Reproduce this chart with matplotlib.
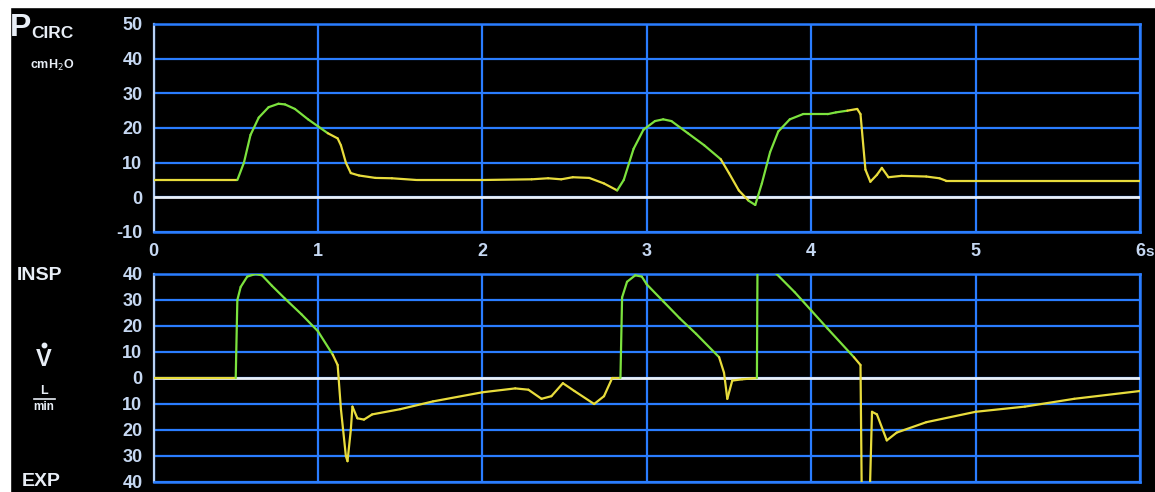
import matplotlib
matplotlib.use("Agg")
import matplotlib.pyplot as plt
import numpy as np
from matplotlib.collections import LineCollection
from matplotlib.lines import Line2D
from matplotlib.patches import Rectangle

# circuit pressure (cmH2O) over time (s)
press_t = [0.0, 0.51, 0.55, 0.59, 0.64, 0.70, 0.76, 0.80, 0.86, 0.94, 1.00, 1.06, 1.12,
           1.14, 1.17, 1.20, 1.25, 1.35, 1.45, 1.60, 2.00, 2.30, 2.40, 2.48, 2.55, 2.65,
           2.74, 2.82, 2.86, 2.92, 2.98, 3.05, 3.10, 3.15, 3.25, 3.35, 3.45, 3.50, 3.56,
           3.62, 3.66, 3.70, 3.75, 3.80, 3.87, 3.95, 4.05, 4.10, 4.15, 4.22, 4.28, 4.30,
           4.33, 4.36, 4.40, 4.43, 4.47, 4.55, 4.70, 4.78, 4.82, 6.00]
press_v = [5, 5, 10, 18, 23, 26, 27, 26.8, 25.5, 22.5, 20.5, 18.5, 17,
           15, 10, 7, 6.3, 5.6, 5.5, 5, 5, 5.2, 5.5, 5.2, 5.8, 5.6,
           4.0, 2.0, 5, 14, 19.5, 22, 22.5, 22, 18.5, 15, 11, 7, 2,
           -1, -2.2, 4, 13, 19, 22.5, 24, 24, 24, 24.5, 25, 25.5, 24,
           8, 4.5, 6.5, 8.5, 5.8, 6.2, 6, 5.5, 4.8, 4.8]
press_insp = [(0.51, 1.05), (2.82, 3.46), (3.62, 4.20)]

# flow (L/min), positive = inspiration
flow_t = [0.0, 0.50, 0.51, 0.53, 0.57, 0.62, 0.66, 0.72, 0.80, 0.90, 1.00, 1.09, 1.12,
          1.14, 1.17, 1.18, 1.20, 1.21, 1.24, 1.28, 1.33, 1.50, 1.70, 2.00, 2.20, 2.28,
          2.36, 2.42, 2.49, 2.56, 2.68, 2.74, 2.79, 2.84, 2.85, 2.88, 2.93, 2.97, 3.00,
          3.10, 3.20, 3.30, 3.44, 3.47, 3.49, 3.52, 3.58, 3.67, 3.675, 3.79, 3.90, 4.00,
          4.10, 4.26, 4.30, 4.31, 4.35, 4.37, 4.40, 4.46, 4.52, 4.70, 5.00, 5.30, 5.60, 6.00]
flow_v = [0, 0, 30, 35, 39, 40, 39.5, 35.5, 30.5, 24.5, 18, 9, 5,
          -12, -30, -32, -20, -11, -15.5, -16, -14, -12, -9, -5.5, -4, -4.5,
          -8, -7, -2, -5, -10, -7, 0, 0, 31, 37, 39.5, 39, 36,
          29.5, 23, 17, 8, 2, -8, -1, -0.5, 0, 60, 40, 33, 26,
          19, 8, 5, -60, -60, -13, -14, -24, -21, -17, -13, -11, -8, -5]
flow_insp = [(0.50, 1.09), (2.84, 3.44), (3.67, 4.26)]

x_ticks = [0, 1, 2, 3, 4, 5, 6]
press_ticks = [50, 40, 30, 20, 10, 0, -10]
flow_ticks = [40, 30, 20, 10, 0, -10, -20, -30, -40]

BG = "#000000"
GRID = "#2a7dff"
LABEL = "#c6d8f2"
WHITE = "#e8eef6"
YELLOW = "#e8dc3c"
GREEN = "#7ce23e"
FONT = ["Liberation Sans", "DejaVu Sans"]

W, H = 1155, 492
fig = plt.figure(figsize=(W / 100, H / 100), dpi=100, facecolor=BG)


def px_box(x0, y0, x1, y1):
    return [x0 / W, 1 - y1 / H, (x1 - x0) / W, (y1 - y0) / H]


def trace(ax, t, v, windows):
    pts = np.column_stack([t, v])
    segs = np.stack([pts[:-1], pts[1:]], axis=1)
    mid = (pts[:-1, 0] + pts[1:, 0]) / 2
    cols = [GREEN if any(a <= m <= b for a, b in windows) else YELLOW for m in mid]
    lc = LineCollection(segs, colors=cols, linewidths=1.6, capstyle="round",
                        joinstyle="round", zorder=4)
    ax.add_collection(lc)


def style_panel(ax, ylim, yticks, ylabels):
    ax.set_facecolor(BG)
    ax.set_xlim(0, 6)
    ax.set_ylim(*ylim)
    ax.set_xticks(range(7))
    ax.set_yticks(yticks)
    ax.set_yticklabels(ylabels, fontfamily=FONT, fontweight="bold", fontsize=13, color=LABEL)
    ax.tick_params(length=0, pad=8)
    ax.grid(True, color=GRID, lw=1.6, zorder=1)
    ax.set_axisbelow(True)
    for side in ("top", "right", "bottom"):
        ax.spines[side].set_color(GRID)
        ax.spines[side].set_linewidth(1.8)
    ax.spines["left"].set_color("#b8d2f6")
    ax.spines["left"].set_linewidth(1.6)
    ax.axhline(0, color=WHITE, lw=2.0, zorder=3)


ax_p = fig.add_axes(px_box(153.5, 24, 1140, 232))
style_panel(ax_p, (-10, 50), press_ticks, [str(v) for v in press_ticks])
ax_p.set_xticklabels([])
trace(ax_p, press_t, press_v, press_insp)

ax_f = fig.add_axes(px_box(153.5, 274, 1140, 482))
style_panel(ax_f, (-40, 40), flow_ticks, [str(abs(v)) for v in flow_ticks])
ax_f.set_xticklabels([])
trace(ax_f, flow_t, flow_v, flow_insp)

# time labels between the two panels
for x in x_ticks:
    ax_p.text(x, -0.095, str(x), transform=ax_p.get_xaxis_transform(), ha="center",
              va="center", fontfamily=FONT, fontweight="bold", fontsize=13, color=LABEL)
fig.text(1145 / W, 1 - 252 / H, "s", ha="left", va="center", fontfamily=FONT,
         fontweight="bold", fontsize=11, color=LABEL)

# channel titles on the left
txt = dict(color=WHITE, fontfamily=FONT, fontweight="bold")
fig.text(10 / W, 1 - 28 / H, "P", fontsize=23, ha="left", va="center", **txt)
fig.text(31 / W, 1 - 33 / H, "CIRC", fontsize=12.5, ha="left", va="center", **txt)
fig.text(52 / W, 1 - 65 / H, r"cmH$_2$O", fontsize=9, ha="center", va="center", **txt)
fig.text(40 / W, 1 - 276 / H, "INSP", fontsize=14, ha="center", va="center", **txt)
fig.text(44 / W, 1 - 360 / H, "V", fontsize=17, ha="center", va="center", **txt)
fig.add_artist(Line2D([44 / W], [1 - 345 / H], marker="o", ms=3.2, color=WHITE, lw=0))
fig.text(44 / W, 1 - 391 / H, "L", fontsize=9, ha="center", va="center", **txt)
fig.add_artist(Line2D([34 / W, 55 / W], [1 - 399 / H, 1 - 399 / H], color=WHITE, lw=1.2))
fig.text(44 / W, 1 - 407 / H, "min", fontsize=8.5, ha="center", va="center", **txt)
fig.text(41 / W, 1 - 481 / H, "EXP", fontsize=14, ha="center", va="center", **txt)

# light frame along the top and left edges of the photo
fig.add_artist(Rectangle((0, 1 - 7 / H), 1, 7 / H, transform=fig.transFigure,
                         color="white", zorder=10))
fig.add_artist(Rectangle((0, 0), 10 / W, 1, transform=fig.transFigure,
                         color="white", zorder=10))

fig.savefig("out.png", dpi=100, facecolor=BG)
